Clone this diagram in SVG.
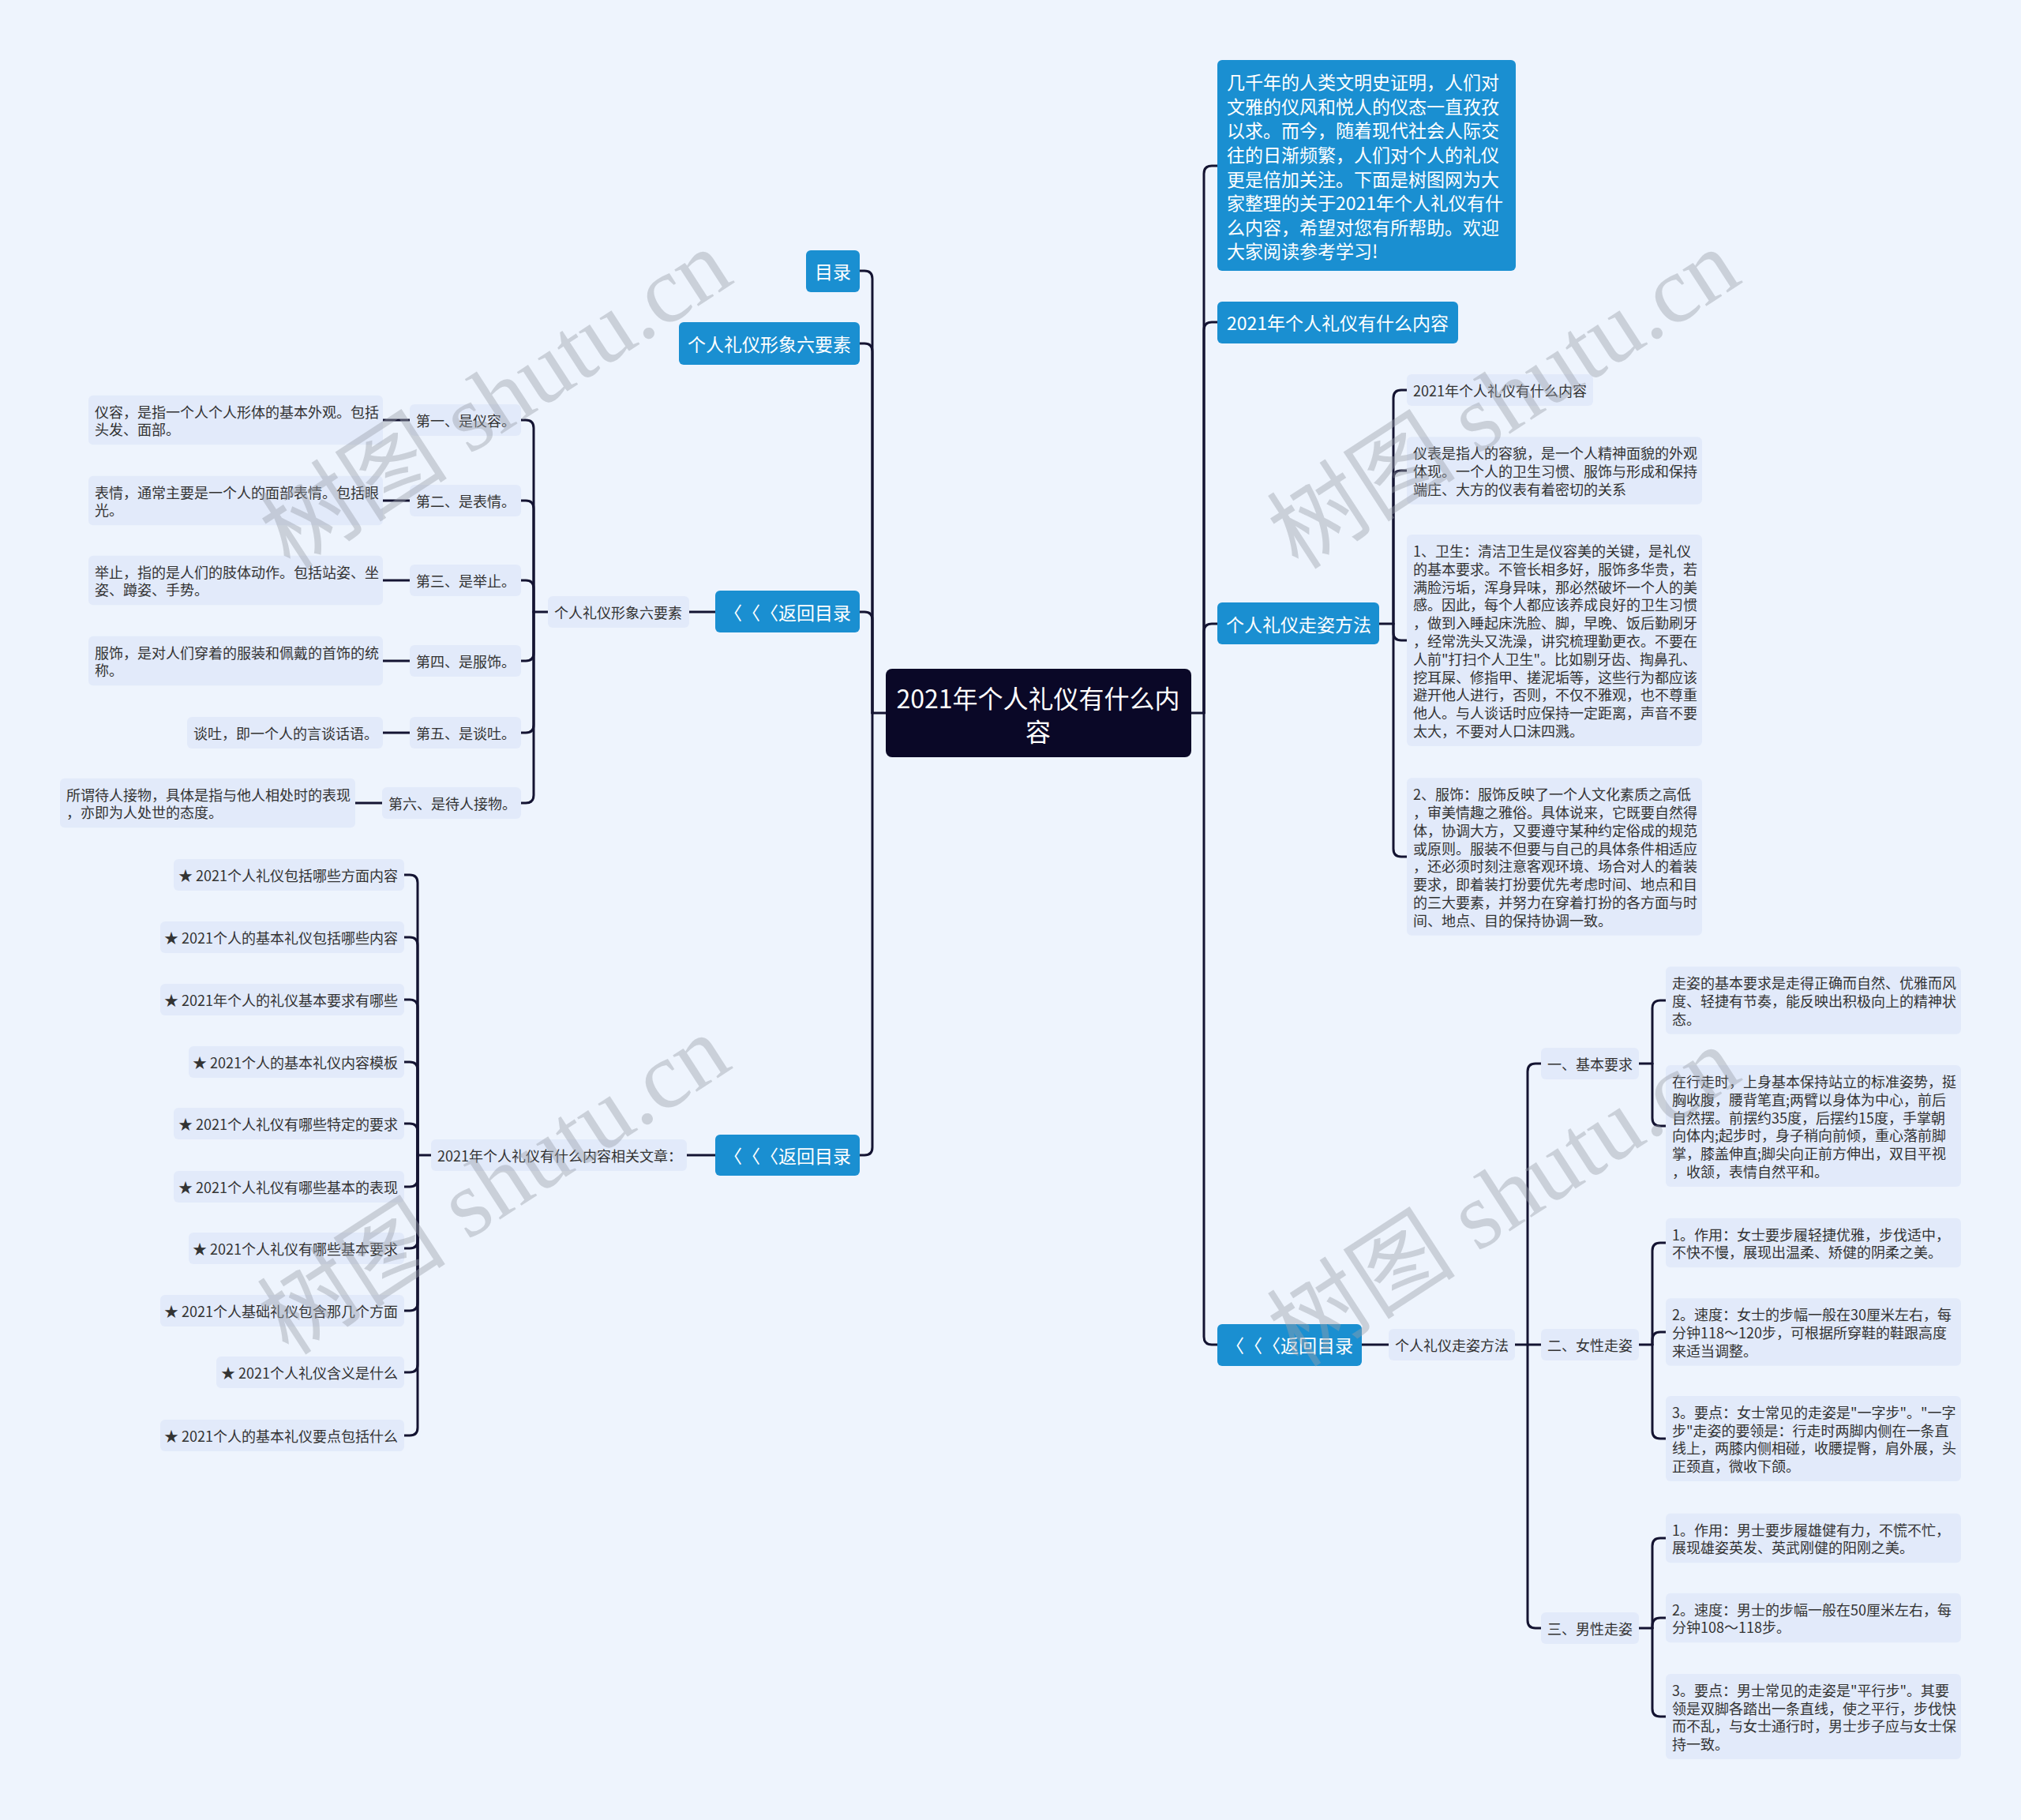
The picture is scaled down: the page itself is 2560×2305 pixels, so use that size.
<svg xmlns="http://www.w3.org/2000/svg" width="2560" height="2305" viewBox="0 0 2560 2305">
<style>
text{text-spacing-trim:space-all}
.blue{fill:#1a8fd1}
.light{fill:#e2eafa}
.root{fill:#0a0827}
.bt{font-family:"Noto Sans CJK SC","Noto Sans",sans-serif;font-size:23px;fill:#ffffff;dominant-baseline:central}
.lt{font-family:"Noto Sans CJK SC","Noto Sans",sans-serif;font-size:18px;fill:#333333;dominant-baseline:central}
.rt{font-family:"Noto Sans CJK SC","Noto Sans",sans-serif;font-size:32px;fill:#ffffff;dominant-baseline:central;text-anchor:middle}
.conn path{fill:none;stroke:#141432;stroke-width:3;stroke-linecap:round}
.wm{font-family:"Liberation Serif","Noto Sans CJK SC",serif;font-size:120px;fill:#9aa0aa;opacity:0.42;text-anchor:middle}
.end{text-anchor:end}
</style>
<rect x="0" y="0" width="2560" height="2305" fill="#eef4fd"/>

<g class="conn" id="connectors">
<path d="M1122,903 H1105"/>
<path d="M1105,903 V353 Q1105,343 1095,343 H1089"/>
<path d="M1105,903 V445 Q1105,435 1095,435 H1089"/>
<path d="M1105,903 V785 Q1105,775 1095,775 H1089"/>
<path d="M1105,903 V1453 Q1105,1463 1095,1463 H1089"/>
<path d="M1509,903 H1525"/>
<path d="M1525,903 V220 Q1525,210 1535,210 H1542"/>
<path d="M1525,903 V418 Q1525,408 1535,408 H1542"/>
<path d="M1525,903 V800 Q1525,790 1535,790 H1542"/>
<path d="M1525,903 V1693 Q1525,1703 1535,1703 H1542"/>
<path d="M1747,790 H1765"/>
<path d="M1765,790 V504 Q1765,494 1775,494 H1782"/>
<path d="M1765,790 V606 Q1765,596 1775,596 H1782"/>
<path d="M1765,790 V801 Q1765,811 1775,811 H1782"/>
<path d="M1765,790 V1075 Q1765,1085 1775,1085 H1782"/>
<path d="M1725,1703 H1759"/>
<path d="M1918,1703 H1935"/>
<path d="M1935,1703 V1357 Q1935,1347 1945,1347 H1952"/>
<path d="M1935,1703 H1952"/>
<path d="M1935,1703 V2052 Q1935,2062 1945,2062 H1952"/>
<path d="M2076,1347 H2093"/>
<path d="M2093,1347 V1277 Q2093,1267 2103,1267 H2110"/>
<path d="M2093,1347 V1416 Q2093,1426 2103,1426 H2110"/>
<path d="M2076,1703 H2093"/>
<path d="M2093,1703 V1584 Q2093,1574 2103,1574 H2110"/>
<path d="M2093,1703 V1697 Q2093,1687 2103,1687 H2110"/>
<path d="M2093,1703 V1812 Q2093,1822 2103,1822 H2110"/>
<path d="M2076,2062 H2093"/>
<path d="M2093,2062 V1958 Q2093,1948 2103,1948 H2110"/>
<path d="M2093,2062 V2059 Q2093,2049 2103,2049 H2110"/>
<path d="M2093,2062 V2164 Q2093,2174 2103,2174 H2110"/>
<path d="M906,775 H873"/>
<path d="M694,775 H676"/>
<path d="M676,775 V542 Q676,532 666,532 H660"/>
<path d="M676,775 V644 Q676,634 666,634 H660"/>
<path d="M676,775 V745 Q676,735 666,735 H660"/>
<path d="M676,775 V827 Q676,837 666,837 H660"/>
<path d="M676,775 V918 Q676,928 666,928 H660"/>
<path d="M676,775 V1007 Q676,1017 666,1017 H660"/>
<path d="M519,532 H485"/>
<path d="M519,634 H485"/>
<path d="M519,735 H485"/>
<path d="M519,837 H485"/>
<path d="M519,928 H485"/>
<path d="M484,1017 H450"/>
<path d="M906,1463 H870"/>
<path d="M546,1463 H529"/>
<path d="M529,1463 V1118 Q529,1108 519,1108 H512"/>
<path d="M529,1463 V1197 Q529,1187 519,1187 H512"/>
<path d="M529,1463 V1276 Q529,1266 519,1266 H512"/>
<path d="M529,1463 V1355 Q529,1345 519,1345 H512"/>
<path d="M529,1463 V1433 Q529,1423 519,1423 H512"/>
<path d="M529,1463 V1493 Q529,1503 519,1503 H512"/>
<path d="M529,1463 V1571 Q529,1581 519,1581 H512"/>
<path d="M529,1463 V1650 Q529,1660 519,1660 H512"/>
<path d="M529,1463 V1728 Q529,1738 519,1738 H512"/>
<path d="M529,1463 V1808 Q529,1818 519,1818 H512"/>
</g>

<g id="root">
<rect class="root" x="1122" y="847" width="387" height="112" rx="8"/>
<text class="rt" x="1315" y="883">2021年个人礼仪有什么内</text>
<text class="rt" x="1315" y="925">容</text>
</g>

<g id="n-mulu"><rect class="blue" x="1021" y="317" width="68" height="53" rx="6"/><text class="bt" x="1032" y="343">目录</text></g>
<g id="n-liuyaosu"><rect class="blue" x="860" y="408" width="229" height="54" rx="6"/><text class="bt" x="871" y="435">个人礼仪形象六要素</text></g>
<g id="n-back1"><rect class="blue" x="906" y="748" width="183" height="53" rx="6"/><text class="bt" x="917" y="775">〈〈〈返回目录</text></g>
<g id="n-back2"><rect class="blue" x="906" y="1437" width="183" height="52" rx="6"/><text class="bt" x="917" y="1463">〈〈〈返回目录</text></g>

<g id="n-intro"><rect class="blue" x="1542" y="76" width="378" height="267" rx="6"/>
<text class="bt"><tspan x="1554" y="103">几千年的人类文明史证明，人们对</tspan><tspan x="1554" y="134">文雅的仪风和悦人的仪态一直孜孜</tspan><tspan x="1554" y="164">以求。而今，随着现代社会人际交</tspan><tspan x="1554" y="195">往的日渐频繁，人们对个人的礼仪</tspan><tspan x="1554" y="226">更是倍加关注。下面是树图网为大</tspan><tspan x="1554" y="256">家整理的关于2021年个人礼仪有什</tspan><tspan x="1554" y="287">么内容，希望对您有所帮助。欢迎</tspan><tspan x="1554" y="317">大家阅读参考学习!</tspan></text></g>
<g id="n-title2"><rect class="blue" x="1542" y="382" width="305" height="53" rx="6"/><text class="bt" x="1554" y="408">2021年个人礼仪有什么内容</text></g>
<g id="n-zouzi"><rect class="blue" x="1542" y="763" width="205" height="53" rx="6"/><text class="bt" x="1553" y="790">个人礼仪走姿方法</text></g>
<g id="n-back3"><rect class="blue" x="1542" y="1677" width="183" height="53" rx="6"/><text class="bt" x="1553" y="1703">〈〈〈返回目录</text></g>

<g id="r1a"><rect class="light" x="1782" y="474" width="236" height="40" rx="6"/><text class="lt" x="1790" y="494">2021年个人礼仪有什么内容</text></g>
<g id="r1b"><rect class="light" x="1782" y="553.3" width="374" height="85.4" rx="6"/>
<text class="lt"><tspan x="1790" y="573.2">仪表是指人的容貌，是一个人精神面貌的外观</tspan><tspan x="1790" y="596">体现。一个人的卫生习惯、服饰与形成和保持</tspan><tspan x="1790" y="618.8">端庄、大方的仪表有着密切的关系</tspan></text></g>
<g id="r1c"><rect class="light" x="1782" y="677.1" width="374" height="267.8" rx="6"/>
<text class="lt"><tspan x="1790" y="697">1、卫生：清洁卫生是仪容美的关键，是礼仪</tspan><tspan x="1790" y="719.8">的基本要求。不管长相多好，服饰多华贵，若</tspan><tspan x="1790" y="742.6">满脸污垢，浑身异味，那必然破坏一个人的美</tspan><tspan x="1790" y="765.4">感。因此，每个人都应该养成良好的卫生习惯</tspan><tspan x="1790" y="788.2">，做到入睡起床洗脸、脚，早晚、饭后勤刷牙</tspan><tspan x="1790" y="811">，经常洗头又洗澡，讲究梳理勤更衣。不要在</tspan><tspan x="1790" y="833.8">人前"打扫个人卫生"。比如剔牙齿、掏鼻孔、</tspan><tspan x="1790" y="856.6">挖耳屎、修指甲、搓泥垢等，这些行为都应该</tspan><tspan x="1790" y="879.4">避开他人进行，否则，不仅不雅观，也不尊重</tspan><tspan x="1790" y="902.2">他人。与人谈话时应保持一定距离，声音不要</tspan><tspan x="1790" y="925">太大，不要对人口沫四溅。</tspan></text></g>
<g id="r1d"><rect class="light" x="1782" y="985.3" width="374" height="199.4" rx="6"/>
<text class="lt"><tspan x="1790" y="1005.2">2、服饰：服饰反映了一个人文化素质之高低</tspan><tspan x="1790" y="1028">，审美情趣之雅俗。具体说来，它既要自然得</tspan><tspan x="1790" y="1050.8">体，协调大方，又要遵守某种约定俗成的规范</tspan><tspan x="1790" y="1073.6">或原则。服装不但要与自己的具体条件相适应</tspan><tspan x="1790" y="1096.4">，还必须时刻注意客观环境、场合对人的着装</tspan><tspan x="1790" y="1119.2">要求，即着装打扮要优先考虑时间、地点和目</tspan><tspan x="1790" y="1142">的三大要素，并努力在穿着打扮的各方面与时</tspan><tspan x="1790" y="1164.8">间、地点、目的保持协调一致。</tspan></text></g>

<g id="s0"><rect class="light" x="1759" y="1683" width="160" height="40" rx="6"/><text class="lt" x="1767" y="1703">个人礼仪走姿方法</text></g>
<g id="s1"><rect class="light" x="1952" y="1327" width="124" height="40" rx="6"/><text class="lt" x="1960" y="1347">一、基本要求</text></g>
<g id="s1a"><rect class="light" x="2110" y="1224.3" width="374" height="85.4" rx="6"/>
<text class="lt"><tspan x="2118" y="1244.2">走姿的基本要求是走得正确而自然、优雅而风</tspan><tspan x="2118" y="1267">度、轻捷有节奏，能反映出积极向上的精神状</tspan><tspan x="2118" y="1289.8">态。</tspan></text></g>
<g id="s1b"><rect class="light" x="2110" y="1349.1" width="374" height="153.8" rx="6"/>
<text class="lt"><tspan x="2118" y="1369">在行走时，上身基本保持站立的标准姿势，挺</tspan><tspan x="2118" y="1391.8">胸收腹，腰背笔直;两臂以身体为中心，前后</tspan><tspan x="2118" y="1414.6">自然摆。前摆约35度，后摆约15度，手掌朝</tspan><tspan x="2118" y="1437.4">向体内;起步时，身子稍向前倾，重心落前脚</tspan><tspan x="2118" y="1460.2">掌，膝盖伸直;脚尖向正前方伸出，双目平视</tspan><tspan x="2118" y="1483">，收颔，表情自然平和。</tspan></text></g>
<g id="s2"><rect class="light" x="1952" y="1683" width="124" height="40" rx="6"/><text class="lt" x="1960" y="1703">二、女性走姿</text></g>
<g id="s2a"><rect class="light" x="2110" y="1542.7" width="374" height="62.6" rx="6"/>
<text class="lt"><tspan x="2118" y="1562.6">1。作用：女士要步履轻捷优雅，步伐适中，</tspan><tspan x="2118" y="1585.4">不快不慢，展现出温柔、矫健的阴柔之美。</tspan></text></g>
<g id="s2b"><rect class="light" x="2110" y="1644.3" width="374" height="85.4" rx="6"/>
<text class="lt"><tspan x="2118" y="1664.2">2。速度：女士的步幅一般在30厘米左右，每</tspan><tspan x="2118" y="1687">分钟118～120步，可根据所穿鞋的鞋跟高度</tspan><tspan x="2118" y="1709.8">来适当调整。</tspan></text></g>
<g id="s2c"><rect class="light" x="2110" y="1767.9" width="374" height="108.2" rx="6"/>
<text class="lt"><tspan x="2118" y="1787.8">3。要点：女士常见的走姿是"一字步"。"一字</tspan><tspan x="2118" y="1810.6">步"走姿的要领是：行走时两脚内侧在一条直</tspan><tspan x="2118" y="1833.4">线上，两膝内侧相碰，收腰提臀，肩外展，头</tspan><tspan x="2118" y="1856.2">正颈直，微收下颌。</tspan></text></g>
<g id="s3"><rect class="light" x="1952" y="2042" width="124" height="40" rx="6"/><text class="lt" x="1960" y="2062">三、男性走姿</text></g>
<g id="s3a"><rect class="light" x="2110" y="1916.7" width="374" height="62.6" rx="6"/>
<text class="lt"><tspan x="2118" y="1936.6">1。作用：男士要步履雄健有力，不慌不忙，</tspan><tspan x="2118" y="1959.4">展现雄姿英发、英武刚健的阳刚之美。</tspan></text></g>
<g id="s3b"><rect class="light" x="2110" y="2017.7" width="374" height="62.6" rx="6"/>
<text class="lt"><tspan x="2118" y="2037.6">2。速度：男士的步幅一般在50厘米左右，每</tspan><tspan x="2118" y="2060.4">分钟108～118步。</tspan></text></g>
<g id="s3c"><rect class="light" x="2110" y="2119.9" width="374" height="108.2" rx="6"/>
<text class="lt"><tspan x="2118" y="2139.8">3。要点：男士常见的走姿是"平行步"。其要</tspan><tspan x="2118" y="2162.6">领是双脚各踏出一条直线，使之平行，步伐快</tspan><tspan x="2118" y="2185.4">而不乱，与女士通行时，男士步子应与女士保</tspan><tspan x="2118" y="2208.2">持一致。</tspan></text></g>

<g id="l0"><rect class="light" x="694" y="755" width="179" height="40" rx="6"/><text class="lt" x="702" y="775">个人礼仪形象六要素</text></g>
<g id="l1"><rect class="light" x="519" y="512" width="141" height="40" rx="6"/><text class="lt" x="527" y="532">第一、是仪容。</text></g>
<g id="l1a"><rect class="light" x="112" y="500.7" width="373" height="62.6" rx="6"/><text class="lt"><tspan x="120" y="520.6">仪容，是指一个人个人形体的基本外观。包括</tspan><tspan x="120" y="543.4">头发、面部。</tspan></text></g>
<g id="l2"><rect class="light" x="519" y="614" width="141" height="40" rx="6"/><text class="lt" x="527" y="634">第二、是表情。</text></g>
<g id="l2a"><rect class="light" x="112" y="602.7" width="373" height="62.6" rx="6"/><text class="lt"><tspan x="120" y="622.6">表情，通常主要是一个人的面部表情。包括眼</tspan><tspan x="120" y="645.4">光。</tspan></text></g>
<g id="l3"><rect class="light" x="519" y="715" width="141" height="40" rx="6"/><text class="lt" x="527" y="735">第三、是举止。</text></g>
<g id="l3a"><rect class="light" x="112" y="703.7" width="373" height="62.6" rx="6"/><text class="lt"><tspan x="120" y="723.6">举止，指的是人们的肢体动作。包括站姿、坐</tspan><tspan x="120" y="746.4">姿、蹲姿、手势。</tspan></text></g>
<g id="l4"><rect class="light" x="519" y="817" width="141" height="40" rx="6"/><text class="lt" x="527" y="837">第四、是服饰。</text></g>
<g id="l4a"><rect class="light" x="112" y="805.7" width="373" height="62.6" rx="6"/><text class="lt"><tspan x="120" y="825.6">服饰，是对人们穿着的服装和佩戴的首饰的统</tspan><tspan x="120" y="848.4">称。</tspan></text></g>
<g id="l5"><rect class="light" x="519" y="908" width="141" height="40" rx="6"/><text class="lt" x="527" y="928">第五、是谈吐。</text></g>
<g id="l5a"><rect class="light" x="237" y="908" width="248" height="40" rx="6"/><text class="lt" x="245" y="928">谈吐，即一个人的言谈话语。</text></g>
<g id="l6"><rect class="light" x="484" y="997" width="176" height="40" rx="6"/><text class="lt" x="492" y="1017">第六、是待人接物。</text></g>
<g id="l6a"><rect class="light" x="76" y="985.7" width="374" height="62.6" rx="6"/><text class="lt"><tspan x="84" y="1005.6">所谓待人接物，具体是指与他人相处时的表现</tspan><tspan x="84" y="1028.4">，亦即为人处世的态度。</tspan></text></g>

<g id="m0"><rect class="light" x="546" y="1443" width="324" height="40" rx="6"/><text class="lt" x="554" y="1463">2021年个人礼仪有什么内容相关文章：</text></g>
<g id="m1"><rect class="light" x="220" y="1088" width="292" height="40" rx="6"/><text class="lt end" x="504" y="1108">★ 2021个人礼仪包括哪些方面内容</text></g>
<g id="m2"><rect class="light" x="203" y="1167" width="309" height="40" rx="6"/><text class="lt end" x="504" y="1187">★ 2021个人的基本礼仪包括哪些内容</text></g>
<g id="m3"><rect class="light" x="203" y="1246" width="309" height="40" rx="6"/><text class="lt end" x="504" y="1266">★ 2021年个人的礼仪基本要求有哪些</text></g>
<g id="m4"><rect class="light" x="239" y="1325" width="273" height="40" rx="6"/><text class="lt end" x="504" y="1345">★ 2021个人的基本礼仪内容模板</text></g>
<g id="m5"><rect class="light" x="220" y="1403" width="292" height="40" rx="6"/><text class="lt end" x="504" y="1423">★ 2021个人礼仪有哪些特定的要求</text></g>
<g id="m6"><rect class="light" x="220" y="1483" width="292" height="40" rx="6"/><text class="lt end" x="504" y="1503">★ 2021个人礼仪有哪些基本的表现</text></g>
<g id="m7"><rect class="light" x="239" y="1561" width="273" height="40" rx="6"/><text class="lt end" x="504" y="1581">★ 2021个人礼仪有哪些基本要求</text></g>
<g id="m8"><rect class="light" x="203" y="1640" width="309" height="40" rx="6"/><text class="lt end" x="504" y="1660">★ 2021个人基础礼仪包含那几个方面</text></g>
<g id="m9"><rect class="light" x="274" y="1718" width="238" height="40" rx="6"/><text class="lt end" x="504" y="1738">★ 2021个人礼仪含义是什么</text></g>
<g id="m10"><rect class="light" x="203" y="1798" width="309" height="40" rx="6"/><text class="lt end" x="504" y="1818">★ 2021个人的基本礼仪要点包括什么</text></g>

<g id="watermarks">
<text class="wm" transform="translate(650,540) rotate(-33)">树图 shutu.cn</text>
<text class="wm" transform="translate(1927,540) rotate(-33)">树图 shutu.cn</text>
<text class="wm" transform="translate(648,1535) rotate(-33)">树图 shutu.cn</text>
<text class="wm" transform="translate(1927,1550) rotate(-33)">树图 shutu.cn</text>
</g>
</svg>
